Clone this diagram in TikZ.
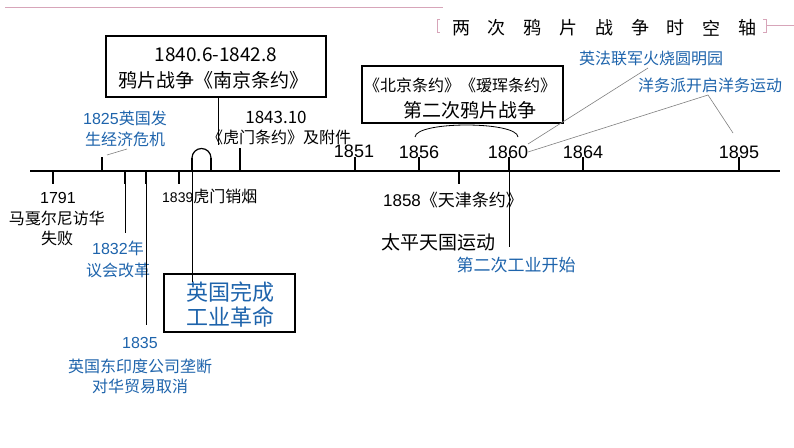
\documentclass[tikz,border=0pt]{standalone}
\usepackage{fontspec}
\setmainfont{Liberation Sans}
\newfontfamily\cjk{Noto Sans CJK SC}
\definecolor{blu}{RGB}{30,100,172}
\definecolor{pnk}{RGB}{215,165,185}
\begin{document}
\begin{tikzpicture}[x=1pt,y=-1pt,
  lbl/.style={inner sep=0pt, font=\cjk\fontsize{16}{18}\selectfont},
  big/.style={inner sep=0pt, font=\cjk\fontsize{19}{22}\selectfont},
  num/.style={inner sep=0pt, font=\fontsize{18}{20}\selectfont},
  bl/.style={text=blu},
  ttl/.style={inner sep=0pt, font=\cjk\fontsize{18}{20}\selectfont},
  boxed/.style={draw, line width=1.6pt},
  tick/.style={line width=2pt},
  thin/.style={line width=0.8pt},
  gline/.style={line width=0.6pt, gray}]
\useasboundingbox (0,0) rectangle (794,447);
\fill[white] (0,0) rectangle (794,447);
% title decoration
\draw[pnk, line width=1pt] (5,7) -- (443,7);
\draw[pnk, line width=0.8pt] (440,19) -- (437,19) -- (437,32) -- (440,32);
\draw[pnk, line width=0.8pt] (763,19) -- (766,19) -- (766,32) -- (763,32);
\draw[pnk, line width=1pt] (766,25) -- (794,25);
\foreach \c [count=\i] in {两,次,鸦,片,战,争,时,空,轴}
  \node[ttl] (t\i) at ({461+(\i-1)*35.8},28) {\c};
% axis
\coordinate (axL) at (30,171);
\coordinate (axR) at (780,171);
\draw[line width=2.6pt] (axL) -- (axR);
% down ticks
\foreach \n/\x in {d1791/53, d1832/125, d1835/146, d1839/179, d1858/459}{
  \coordinate (\n a) at (\x,171);
  \coordinate (\n b) at (\x,184);
  \draw[tick] (\n a) -- (\n b);
}
% up ticks
\foreach \n/\x in {u1825/102, u1851/355, u1856/419, u1860/509, u1864/583, u1895/739}{
  \coordinate (\n a) at (\x,171);
  \coordinate (\n b) at (\x,157);
  \draw[tick] (\n a) -- (\n b);
}
\coordinate (u1843a) at (240,171);
\coordinate (u1843b) at (240,148);
\draw[tick] (u1843a) -- (u1843b);
% 1840 / 1842 ticks with arc
\coordinate (u1840a) at (192,171);
\coordinate (u1840b) at (192,158);
\coordinate (u1842a) at (211,171);
\coordinate (u1842b) at (211,158);
\draw[tick] (u1840a) -- (u1840b);
\draw[tick] (u1842a) -- (u1842b);
\draw[line width=1.2pt] (u1840b) arc[start angle=180, end angle=360, radius=9.5];
% 1791
\node[inner sep=0pt, font=\fontsize{16}{18}\selectfont] (n1791) at (58,198) {1791};
\node[lbl] (m1) at (57,218) {马戛尔尼访华};
\node[lbl] (m2) at (57,238) {失败};
% 1825
\node[lbl, bl] (e1) at (125,118) {{\fontspec{Liberation Sans}1825}英国发};
\node[lbl, bl] (e2) at (125,139) {生经济危机};
\coordinate (g1825) at (127,149);
\coordinate (g1825b) at (107,155);
\draw[gline] (g1825b) -- (g1825);
% 1832
\coordinate (l1832) at (125,233);
\draw[thin] (d1832b) -- (l1832);
\node[lbl, bl] (r1) at (118,248) {{\fontspec{Liberation Sans}1832}年};
\node[lbl, bl] (r2) at (118,270) {议会改革};
% 1835
\coordinate (l1835) at (146,325);
\draw[thin] (d1835b) -- (l1835);
\node[inner sep=0pt, text=blu, font=\fontsize{16}{18}\selectfont] (n1835) at (140,343) {1835};
\node[lbl, bl] (c1) at (140,366) {英国东印度公司垄断};
\node[lbl, bl] (c2) at (140,386) {对华贸易取消};
% 1839
\node[lbl, anchor=west] (h1839) at (162,196) {{\fontspec{Liberation Sans}\fontsize{14}{16}\selectfont 1839}虎门销烟};
% box 1
\node[boxed, minimum width=220pt, minimum height=61pt, inner sep=0pt] (box1) at (216,66.5) {};
\node[big] (b1a) at (216,55) {1840.6-1842.8};
\node[big] (b1b) at (213,80) {鸦片战争《南京条约》};
\coordinate (box1s) at (218,97);
\coordinate (box1e) at (218,145);
\draw[thin] (box1s) -- (box1e);
% industrial revolution box
\node[boxed, minimum width=131pt, minimum height=58pt, inner sep=0pt] (box3) at (229.5,303) {};
\node[inner sep=0pt, text=blu, font=\cjk\fontsize{22}{24}\selectfont] (ir1) at (230,292) {英国完成};
\node[inner sep=0pt, text=blu, font=\cjk\fontsize{22}{24}\selectfont] (ir2) at (230,317) {工业革命};
\coordinate (irtop) at (192,282);
\draw[thin] (u1840a) -- (irtop);
% 1843.10
\node[inner sep=0pt, font=\cjk\fontsize{17}{19}\selectfont] (n1843) at (276,117) {1843.10};
\node[lbl] (hm) at (279,137) {《虎门条约》及附件};
% year labels
\node[num] (y1851) at (354,151) {1851};
\node[num] (y1856) at (419,152) {1856};
\node[num] (y1860) at (508,152) {1860};
\node[num] (y1864) at (583,152) {1864};
\node[num] (y1895) at (739,152) {1895};
% box 2
\node[boxed, minimum width=201pt, minimum height=57pt, inner sep=0pt] (box2) at (462.5,94.5) {};
\node[lbl] (b2a) at (460,85) {《北京条约》《瑷珲条约》};
\node[big] (b2b) at (470,110) {第二次鸦片战争};
\coordinate (arcL) at (415,137);
\coordinate (arcR) at (518,137);
\draw[thin] (arcL) .. controls (416,121) and (517,121) .. (arcR);
% 1858
\node[inner sep=0pt, font=\fontsize{17}{19}\selectfont] (tj) at (453,200) {1858{\cjk《天津条约》}};
\node[inner sep=0pt, font=\cjk\fontsize{19}{21}\selectfont] (tp) at (438,242) {太平天国运动};
% 1860 line
\coordinate (l1860) at (509,247);
\draw[thin] (u1860a) -- (l1860);
\node[inner sep=0pt, text=blu, font=\cjk\fontsize{17}{19}\selectfont] (ind2) at (516,265) {第二次工业开始};
% top right labels
\node[lbl, bl] (yfl) at (651,58) {英法联军火烧圆明园};
\node[lbl, bl] (yw) at (710,85) {洋务派开启洋务运动};
\coordinate (g1) at (528,144);
\coordinate (g1e) at (648,68);
\coordinate (g2) at (528,152);
\coordinate (g2m) at (708,95);
\coordinate (g2e) at (733,133);
\draw[gline] (g1) -- (g1e);
\draw[gline] (g2) -- (g2m) -- (g2e);
\end{tikzpicture}
\end{document}
